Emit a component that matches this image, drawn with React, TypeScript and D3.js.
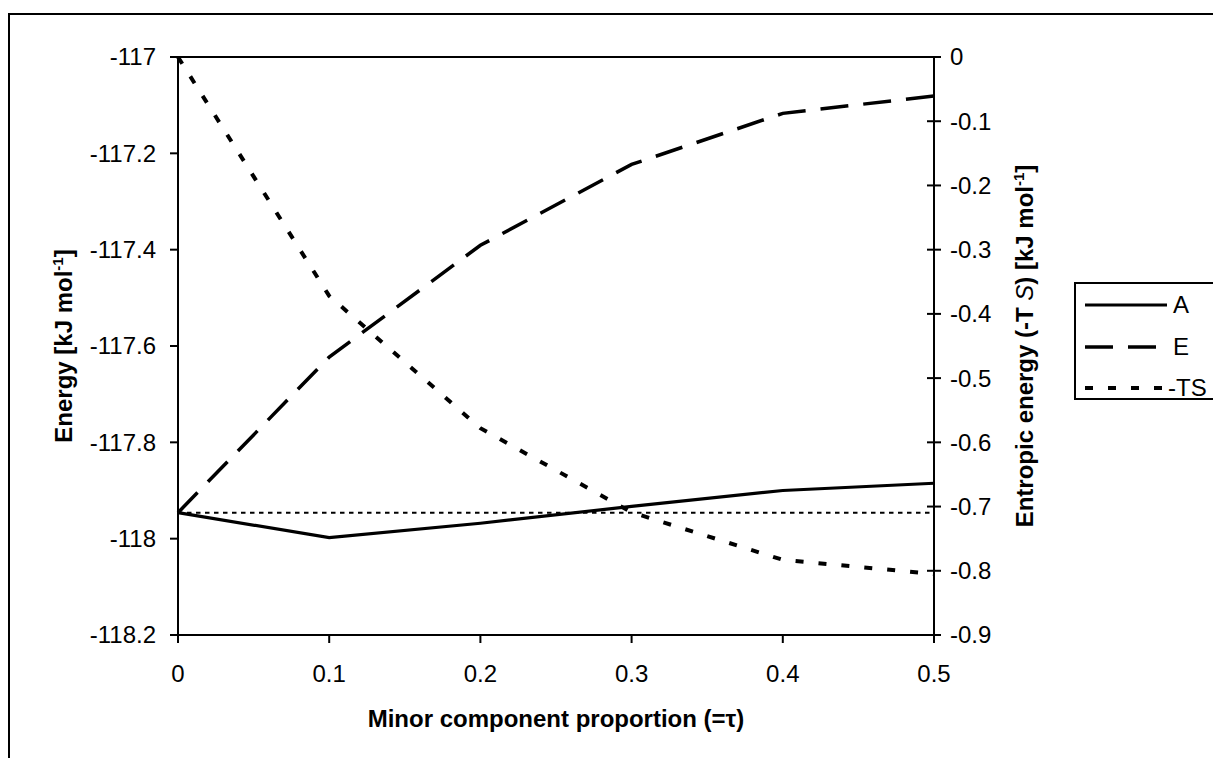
import React from "react";
import * as d3 from "d3";

const tau = [0, 0.1, 0.2, 0.3, 0.4, 0.5];
const seriesA = [-117.946, -117.998, -117.968, -117.933, -117.9, -117.885];
const seriesE = [-117.946, -117.623, -117.391, -117.223, -117.117, -117.081];
const seriesNegTS = [0, -0.372, -0.578, -0.709, -0.783, -0.805];
const refTau = [0, 0.5];
const refValue = [-117.946, -117.946];

const xTicks = [0, 0.1, 0.2, 0.3, 0.4, 0.5];
const leftTicks = [-117, -117.2, -117.4, -117.6, -117.8, -118, -118.2];
const rightTicks = [0, -0.1, -0.2, -0.3, -0.4, -0.5, -0.6, -0.7, -0.8, -0.9];
const legendLabels = ["A", "E", "-TS"];

const FONT = "'Liberation Sans', Arial, Helvetica, sans-serif";

export default function App() {
  const W = 1213;
  const H = 758;
  const left = 178;
  const right = 934;
  const top = 57;
  const bottom = 635;

  const x = d3.scaleLinear().domain([0, 0.5]).range([left, right]);
  const yL = d3.scaleLinear().domain([-118.2, -117]).range([bottom, top]);
  const yR = d3.scaleLinear().domain([-0.9, 0]).range([bottom, top]);

  const lineL = d3
    .line<[number, number]>()
    .x((d) => x(d[0]))
    .y((d) => yL(d[1]));
  const lineR = d3
    .line<[number, number]>()
    .x((d) => x(d[0]))
    .y((d) => yR(d[1]));

  const pathA = lineL(tau.map((t, i) => [t, seriesA[i]]))!;
  const pathE = lineL(tau.map((t, i) => [t, seriesE[i]]))!;
  const pathTS = lineR(tau.map((t, i) => [t, seriesNegTS[i]]))!;
  const pathRef = lineL(refTau.map((t, i) => [t, refValue[i]]))!;

  const fmtL = (v: number) => d3.format("")(Math.round(v * 10) / 10).replace("−", "-");
  const fmtR = (v: number) => (v === 0 ? "0" : String(Math.round(v * 10) / 10));

  const fs = 24;
  const styles = [
    { dash: "none", w: 3.2 },
    { dash: "28 15", w: 3.5 },
    { dash: "8 15", w: 4 },
  ];

  const legX = 1075;
  const legY = 283;
  const legRowY = [305, 347, 388];

  return (
    <svg
      width={W}
      height={H}
      style={{ position: "absolute", left: 0, top: 0, background: "#fff" }}
      fontFamily={FONT}
    >
      <rect x={0} y={0} width={W} height={H} fill="#fff" />
      {/* outer frame */}
      <rect x={9} y={14} width={W + 20} height={H + 20} fill="none" stroke="#000" strokeWidth={2} />

      {/* plot area border */}
      <rect x={left} y={top} width={right - left} height={bottom - top} fill="none" stroke="#000" strokeWidth={2} />

      {/* left ticks */}
      {leftTicks.map((t) => (
        <g key={"l" + t}>
          <line x1={left - 8} x2={left} y1={yL(t)} y2={yL(t)} stroke="#000" strokeWidth={2} />
          <text x={156} y={yL(t)} dy="0.35em" textAnchor="end" fontSize={fs}>
            {fmtL(t)}
          </text>
        </g>
      ))}

      {/* right ticks */}
      {rightTicks.map((t) => (
        <g key={"r" + t}>
          <line x1={right - 7} x2={right + 7} y1={yR(t)} y2={yR(t)} stroke="#000" strokeWidth={2} />
          <text x={950} y={yR(t)} dy="0.35em" textAnchor="start" fontSize={fs}>
            {fmtR(t)}
          </text>
        </g>
      ))}

      {/* bottom ticks */}
      {xTicks.map((t) => (
        <g key={"x" + t}>
          <line x1={x(t)} x2={x(t)} y1={bottom} y2={bottom + 8} stroke="#000" strokeWidth={2} />
          <text x={x(t)} y={682} textAnchor="middle" fontSize={fs}>
            {String(t)}
          </text>
        </g>
      ))}

      {/* series */}
      <path d={pathRef} fill="none" stroke="#000" strokeWidth={2} strokeDasharray="4.5 4.5" />
      <path d={pathA} fill="none" stroke="#000" strokeWidth={styles[0].w} />
      <path d={pathE} fill="none" stroke="#000" strokeWidth={styles[1].w} strokeDasharray={styles[1].dash} />
      <path d={pathTS} fill="none" stroke="#000" strokeWidth={styles[2].w} strokeDasharray={styles[2].dash} />

      {/* axis titles */}
      <text x={(left + right) / 2} y={727} textAnchor="middle" fontSize={fs} fontWeight="bold">
        Minor component proportion (=τ)
      </text>
      <text
        transform={`translate(72, ${(top + bottom) / 2}) rotate(-90)`}
        textAnchor="middle"
        fontSize={fs}
        fontWeight="bold"
      >
        Energy [kJ mol
        <tspan fontSize={15} dy={-9}>-1</tspan>
        <tspan dy={9}>]</tspan>
      </text>
      <text
        transform={`translate(1033, ${(top + bottom) / 2}) rotate(-90)`}
        textAnchor="middle"
        fontSize={fs}
        fontWeight="bold"
      >
        Entropic energy (-T <tspan fontStyle="italic" fontWeight="normal">S</tspan>) [kJ mol
        <tspan fontSize={15} dy={-9}>-1</tspan>
        <tspan dy={9}>]</tspan>
      </text>

      {/* legend */}
      <rect x={legX} y={legY} width={160} height={116} fill="#fff" stroke="#000" strokeWidth={2} />
      {legendLabels.map((lab, i) => (
        <g key={lab}>
          <line
            x1={1085}
            x2={1167}
            y1={legRowY[i]}
            y2={legRowY[i]}
            stroke="#000"
            strokeWidth={styles[i].w}
            strokeDasharray={styles[i].dash}
          />
          <text x={i === 2 ? 1168 : 1173} y={legRowY[i]} dy="0.35em" fontSize={fs}>
            {lab}
          </text>
        </g>
      ))}
    </svg>
  );
}
